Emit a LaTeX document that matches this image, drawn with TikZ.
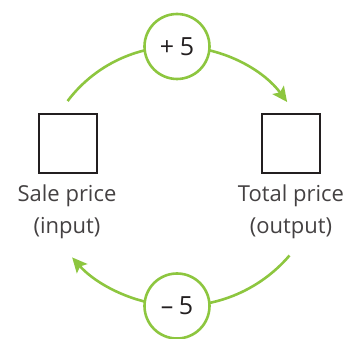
\documentclass[tikz,border=0pt]{standalone}
\usepackage{fontspec}
\setmainfont{Open Sans}
\usetikzlibrary{arrows.meta}
\definecolor{fgreen}{HTML}{8DC63F}
\definecolor{ink}{HTML}{231F20}
\begin{document}
\begin{tikzpicture}[x=1pt,y=1pt,
  opcircle/.style={circle,draw=fgreen,line width=2.6pt,fill=white,minimum size=65pt,inner sep=0pt,font=\fontsize{25}{25}\selectfont,text=ink},
  valbox/.style={draw=ink,line width=1.6pt,minimum size=58.5pt,inner sep=0pt},
  caption/.style={align=center,font=\fontsize{22}{32}\selectfont,text=ink!85},
  flow/.style={draw=fgreen,line width=2.6pt,-{Stealth[length=15pt,width=14pt,inset=3pt]}}]
\useasboundingbox (0,0) rectangle (349,339);
% arcs
\coordinate (topc) at (177,155.5);
\coordinate (botc) at (180,177);
\draw[flow] ([shift={(143:137)}]topc) arc[start angle=143,end angle=36.5,radius=137];
\draw[flow] ([shift={(-40.5:144)}]botc) arc[start angle=-40.5,end angle=-138.5,radius=144];
% nodes
\node[opcircle] (plus) at (177,292.5) {+\hspace{0.22em}5};
\node[opcircle] (minus) at (177,33) {–\hspace{0.22em}5};
\node[valbox] (in) at (68,195.5) {};
\node[valbox] (out) at (291,195.5) {};
\node[caption,anchor=north] (inl) at (67,157.5) {Sale price\\(input)};
\node[caption,anchor=north] (outl) at (291,157.5) {Total price\\(output)};
\end{tikzpicture}
\end{document}
